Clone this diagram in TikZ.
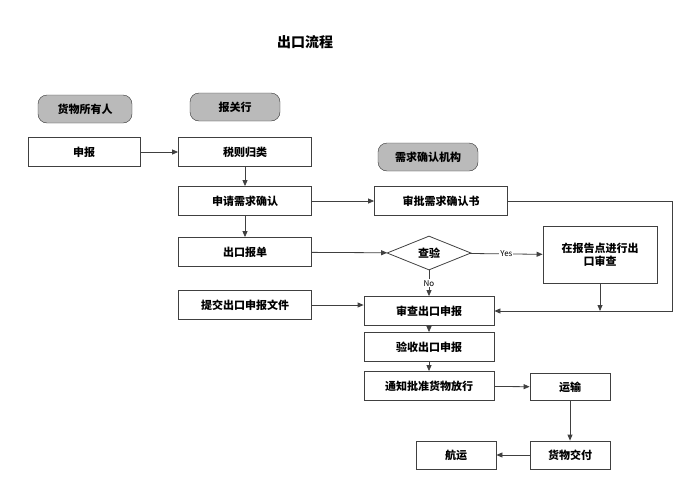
\documentclass[tikz,border=0pt]{standalone}
\usepackage{fontspec}
\setmainfont{Noto Sans CJK SC}
\usetikzlibrary{shapes.geometric,arrows.meta}
\begin{document}
\begin{tikzpicture}[x=1pt,y=-1pt,
 box/.style={draw=black!75,line width=0.8pt,minimum height=29pt,font=\bfseries\fontsize{11}{13}\selectfont,align=center,inner sep=1pt},
 lane/.style={draw=black!80,fill=black!27,rounded corners=9pt,minimum height=28pt,font=\bfseries\fontsize{11}{13}\selectfont},
 arr/.style={draw=black!75,line width=0.8pt,-{Triangle[length=6pt,width=5pt]}},
 lab/.style={font=\fontsize{8}{9}\selectfont,fill=white,inner sep=1pt}]
\useasboundingbox (0,0) rectangle (699,488);
\node[font=\bfseries\fontsize{14}{16}\selectfont] (t) at (305,42) {出口流程};
\node[lane,minimum width=94pt] (l1) at (85,109) {货物所有人};
\node[lane,minimum width=90pt] (l2) at (235,107) {报关行};
\node[lane,minimum width=100pt] (l3) at (428,157) {需求确认机构};
\node[box,minimum width=112pt] (sb) at (84,152) {申报};
\node[box,minimum width=133pt] (sz) at (245,152) {税则归类};
\node[box,minimum width=133pt] (sq) at (245,201) {申请需求确认};
\node[box,minimum width=133pt] (sp) at (441,201) {审批需求确认书};
\node[box,minimum width=133pt] (ck) at (245,252) {出口报单};
\node[diamond,draw=black!75,line width=0.8pt,aspect=2.5,minimum width=84pt,minimum height=34pt,inner sep=0pt,font=\bfseries\fontsize{11}{13}\selectfont] (cy) at (429,253) {查验};
\node[box,minimum width=114pt,minimum height=57pt] (zb) at (600,255) {在报告点进行出\\口审查};
\node[box,minimum width=133pt] (tj) at (245,305) {提交出口申报文件};
\node[box,minimum width=130pt] (sc) at (429,311) {审查出口申报};
\node[box,minimum width=130pt] (ys) at (429,347) {验收出口申报};
\node[box,minimum width=130pt] (tz) at (429,386) {通知批准货物放行};
\node[box,minimum width=80pt,minimum height=27pt] (yu) at (570,387) {运输};
\node[box,minimum width=80pt,minimum height=28pt] (jf) at (570,455) {货物交付};
\node[box,minimum width=80pt,minimum height=28pt] (hy) at (456,455) {航运};
\coordinate (c1) at (672,201);
\coordinate (c2) at (672,311);
\coordinate (c3) at (600,311);
\draw[arr] (sb) -- (sz);
\draw[arr] (sz) -- (sq);
\draw[arr] (sq) -- (ck);
\draw[arr] (sq) -- (sp);
\draw[arr] (ck) -- (cy);
\draw[arr] (cy) -- node[lab]{Yes} (zb);
\draw[arr] (cy) -- node[lab]{No} (sc);
\draw[arr] (sp.east) -- (c1) -- (c2) -- (sc.east);
\draw[arr] (zb.south) -- (c3);
\draw[arr] (tj) -- (tj -| sc.west);
\draw[arr] (sc) -- (ys);
\draw[arr] (ys) -- (tz);
\draw[arr] (tz) -- (yu);
\draw[arr] (yu) -- (jf);
\draw[arr] (jf) -- (hy);
\end{tikzpicture}
\end{document}
